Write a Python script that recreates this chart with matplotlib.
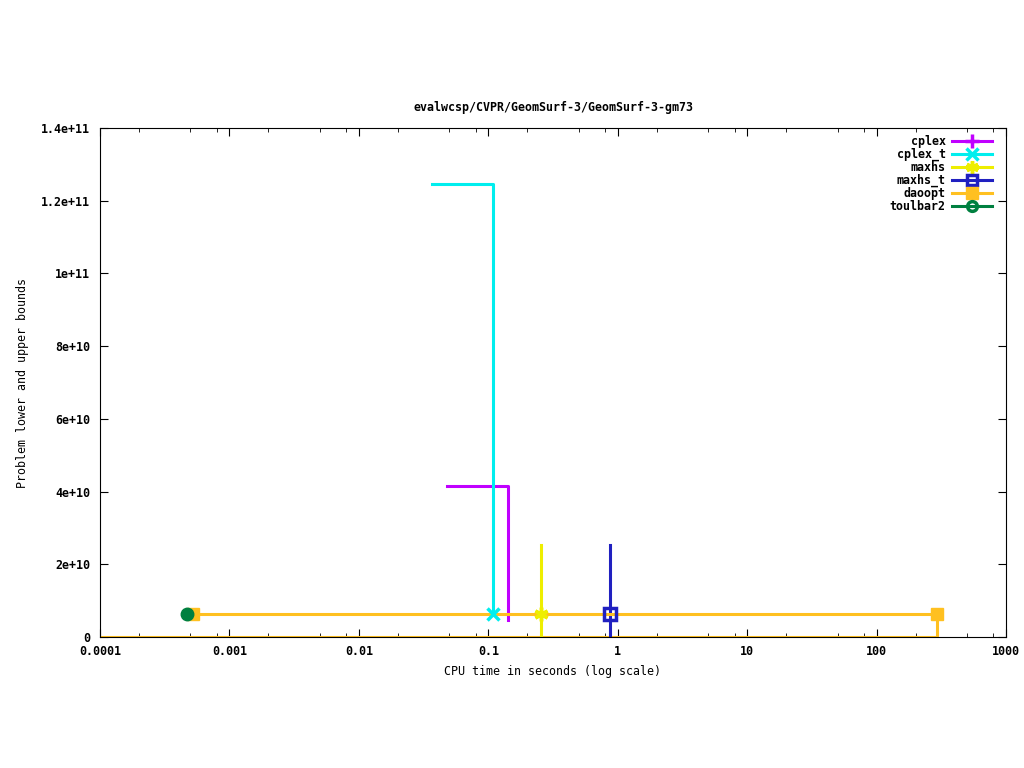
import matplotlib
matplotlib.use("Agg")
import matplotlib.pyplot as plt
from matplotlib.ticker import FixedLocator, LogLocator, NullFormatter

plt.rcParams['font.family'] = ['DejaVu Sans Mono']
plt.rcParams['font.weight'] = 'bold'

opt = 6.33e9

cplex_t = [0.048, 0.142]
cplex_v = [4.15e10, 4.7e9]

cplext_t = [0.0368, 0.109]
cplext_v = [1.246e11, opt]

maxhs_t = [0.256, 0.256, 0.256]
maxhs_v = [2.53e10, opt, 0]

maxhst_t = [0.873, 0.873, 0.873]
maxhst_v = [2.53e10, opt, 0]

daoopt_t = [0.000524, 294]
daoopt_v = [opt, opt]
daoopt_lb_t = [0.0001, 294, 294]
daoopt_lb_v = [0, 0, opt]

toulbar2_t = [0.00047]
toulbar2_v = [opt]

x_ticks = [0.0001, 0.001, 0.01, 0.1, 1, 10, 100, 1000]
x_labels = ['0.0001', '0.001', '0.01', '0.1', '1', '10', '100', '1000']
y_ticks = [0, 2e10, 4e10, 6e10, 8e10, 1e11, 1.2e11, 1.4e11]
y_labels = ['0', '2e+10', '4e+10', '6e+10', '8e+10', '1e+11', '1.2e+11', '1.4e+11']

c_cplex = '#c000ff'
c_cplext = '#00eeee'
c_maxhs = '#eeee00'
c_maxhst = '#2020c0'
c_daoopt = '#ffc020'
c_toul = '#008040'

fs = 8.4

fig = plt.figure(figsize=(10.24, 7.68), dpi=100)
ax = fig.add_axes([100/1024, (768-637)/768, 906/1024, 509/768])
lw = 2.2

ax.plot(daoopt_lb_t, daoopt_lb_v, color=c_daoopt, lw=lw)
ax.plot(cplex_t, cplex_v, color=c_cplex, lw=lw, drawstyle='steps-post')
ax.plot(cplext_t, cplext_v, color=c_cplext, lw=lw, drawstyle='steps-post')
ax.plot(maxhs_t, maxhs_v, color=c_maxhs, lw=lw)
ax.plot(maxhst_t, maxhst_v, color=c_maxhst, lw=lw)
ax.plot(daoopt_t, daoopt_v, color=c_daoopt, lw=lw)

# markers
ax.plot(cplext_t[-1:], cplext_v[-1:], 'x', color=c_cplext, ms=9, mew=2.5)
ax.plot(maxhs_t[1:2], maxhs_v[1:2], marker=(6, 2, 0), ls='none', color=c_maxhs, ms=10, mew=2.5)
ax.plot(maxhst_t[1:2], maxhst_v[1:2], 's', mfc='none', color=c_maxhst, ms=8, mew=2.5)
ax.plot(daoopt_t, daoopt_v, 's', color=c_daoopt, ms=9)
ax.plot(toulbar2_t, toulbar2_v, 'o', color=c_toul, ms=9)

# legend handles
ax.plot([], [], color=c_cplex, lw=lw, marker='+', ms=10, mew=2.5, label='cplex')
ax.plot([], [], color=c_cplext, lw=lw, marker='x', ms=8, mew=2.5, label='cplex_t')
ax.plot([], [], color=c_maxhs, lw=lw, marker=(6, 2, 0), ms=9, mew=2.5, label='maxhs')
ax.plot([], [], color=c_maxhst, lw=lw, marker='s', mfc='none', ms=7, mew=2.5, label='maxhs_t')
ax.plot([], [], color=c_daoopt, lw=lw, marker='s', ms=8, label='daoopt')
ax.plot([], [], color=c_toul, lw=lw, marker='o', mfc='none', ms=7, mew=2.5, label='toulbar2')

ax.set_xscale('log')
ax.set_xlim(0.0001, 1000)
ax.set_ylim(0, 1.4e11)
ax.xaxis.set_major_locator(FixedLocator(x_ticks))
ax.set_xticklabels(x_labels)
ax.xaxis.set_minor_locator(LogLocator(base=10, subs=[2, 5, 8], numticks=20))
ax.xaxis.set_minor_formatter(NullFormatter())
ax.set_yticks(y_ticks)
ax.set_yticklabels(y_labels)
ax.tick_params(which='both', direction='in', top=True, right=True, labelsize=fs)
ax.tick_params(which='major', length=6)
ax.tick_params(which='minor', length=3)
ax.tick_params(axis='y', pad=7)
ax.tick_params(axis='x', pad=6)

ax.set_title('evalwcsp/CVPR/GeomSurf-3/GeomSurf-3-gm73', fontsize=fs, fontweight='bold', pad=12)
ax.set_xlabel('CPU time in seconds (log scale)', fontsize=fs, labelpad=5)
ax.set_ylabel('Problem lower and upper bounds', fontsize=fs, labelpad=9)

leg = ax.legend(loc='upper right', bbox_to_anchor=(0.994, 1.003), frameon=False,
                markerfirst=False, fontsize=fs, handlelength=3.5, labelspacing=0.0,
                borderaxespad=0.3, handletextpad=0.5)

fig.savefig('out.png', dpi=100)
